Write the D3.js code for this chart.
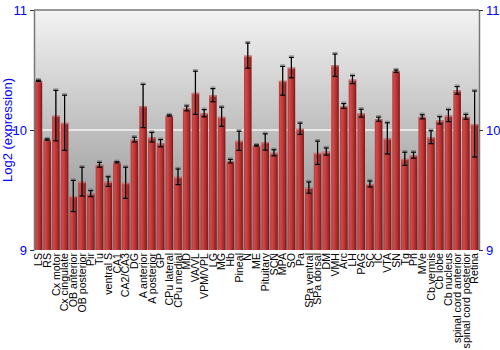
<!DOCTYPE html>
<html>
<head>
<meta charset="utf-8">
<script src="https://cdn.jsdelivr.net/npm/d3@7"></script>
<style>
body { margin: 0; background: #fff; }
svg { display: block; font-family: "Liberation Sans", Arial, sans-serif; }
.cat-label { font-size: 10.6px; fill: #000; }
.y-tick { font-size: 13px; fill: #0000ff; }
</style>
</head>
<body>
<div id="chart"></div>
<script>
var regions = ["LS","RS","Cx motor","Cx cingulate","OB anterior","OB posterior","Pir","Tu","ventral S","CA1","CA2/CA3","DG","A anterior","A posterior","GP","CPu lateral","CPu medial","MD","VA/VL","VPM/VPL","LG","MG","Hb","Pineal","N","ME","Pituitary","SCN","MPA","SO","Pa","SPa ventral","SPa dorsal","DM","VMH","Arc","LH","PAG","SC","IC","VTA","SN","Tg","Pn","MVe","Cb vermis","Cb lobe","Cb nucleus","spinal cord anterior","spinal cord posterior","Retina"]
var expr = [10.41,9.92,10.12,10.06,9.45,9.57,9.47,9.71,9.57,9.73,9.56,9.92,10.20,9.94,9.89,10.12,9.61,10.18,10.31,10.14,10.29,10.11,9.74,9.91,10.62,9.87,9.90,9.81,10.41,10.52,10.01,9.52,9.81,9.82,10.54,10.20,10.42,10.14,9.55,10.09,9.93,10.49,9.76,9.79,10.11,9.94,10.08,10.12,10.33,10.11,10.05]
var err = [0.005,0.005,0.21,0.23,0.13,0.12,0.025,0.02,0.04,0.005,0.13,0.02,0.18,0.04,0.03,0.005,0.065,0.02,0.18,0.03,0.055,0.08,0.015,0.08,0.105,0.005,0.068,0.025,0.12,0.085,0.047,0.047,0.097,0.03,0.093,0.02,0.033,0.033,0.025,0.017,0.13,0.01,0.055,0.025,0.017,0.054,0.03,0.05,0.032,0.02,0.275]
var yTicks = [9,10,11]

var width = 500, height = 350
var margin = {left: 34, right: 21, top: 10, bottom: 100}
var plotW = width - margin.left - margin.right
var plotH = height - margin.top - margin.bottom

var svg = d3.select("#chart").append("svg")
  .attr("width", width)
  .attr("height", height)

var defs = svg.append("defs")
var bgGrad = defs.append("linearGradient")
  .attr("id","bgGrad").attr("x1",0).attr("x2",0).attr("y1",0).attr("y2",1)
bgGrad.append("stop").attr("offset","0%").attr("stop-color","#f3f3f3")
bgGrad.append("stop").attr("offset","100%").attr("stop-color","#8a8a8a")
var barGrad = defs.append("linearGradient")
  .attr("id","barGrad").attr("x1",0).attr("x2",1).attr("y1",0).attr("y2",0)
barGrad.append("stop").attr("offset","0%").attr("stop-color","#b83a3a")
barGrad.append("stop").attr("offset","25%").attr("stop-color","#cc4a4a")
barGrad.append("stop").attr("offset","70%").attr("stop-color","#b02c2c")
barGrad.append("stop").attr("offset","100%").attr("stop-color","#7c1616")

var g = svg.append("g").attr("transform","translate(" + margin.left + "," + margin.top + ")")

var x = d3.scaleBand().domain(regions).range([0, plotW]).paddingInner(0.13).paddingOuter(0.07)
var y = d3.scaleLinear().domain([9, 11]).range([plotH, 0])

/* background */
g.append("rect")
  .attr("width", plotW)
  .attr("height", plotH)
  .attr("fill","url(#bgGrad)")

/* reference line at 10 */
g.append("line")
  .attr("x1",0).attr("x2",plotW)
  .attr("y1",y(10)).attr("y2",y(10))
  .attr("stroke","#f4f4f4")
  .attr("stroke-width",1.5)

/* bars */
g.selectAll("rect.bar")
  .data(regions)
  .enter().append("rect")
  .attr("class","bar")
  .attr("x", function(d) { return x(d) })
  .attr("y", function(d,i) { return y(expr[i]) })
  .attr("width", x.bandwidth())
  .attr("height", function(d,i) { return plotH - y(expr[i]) })
  .attr("fill","url(#barGrad)")
g.selectAll("rect.barcap")
  .data(regions)
  .enter().append("rect")
  .attr("class","barcap")
  .attr("x", function(d) { return x(d) })
  .attr("y", function(d,i) { return y(expr[i]) })
  .attr("width", x.bandwidth())
  .attr("height", 1.5)
  .attr("fill","#d88a8a")
  .attr("opacity",0.7)

/* error bars: gray shadow then black */
function drawErr(cls, dx, dy, color, op) {
  var eg = g.selectAll("g." + cls)
    .data(regions)
    .enter().append("g")
    .attr("class", cls)
    .attr("opacity", op)
  eg.append("line")
    .attr("x1", function(d) { return x(d) + x.bandwidth() / 2 + dx })
    .attr("x2", function(d) { return x(d) + x.bandwidth() / 2 + dx })
    .attr("y1", function(d,i) { return y(expr[i] + err[i]) + dy })
    .attr("y2", function(d,i) { return y(expr[i] - err[i]) + dy })
    .attr("stroke", color).attr("stroke-width", 1.2)
  ;[1, -1].forEach(function(s) {
    eg.append("line")
      .attr("x1", function(d) { return x(d) + x.bandwidth() / 2 + dx - 2.5 })
      .attr("x2", function(d) { return x(d) + x.bandwidth() / 2 + dx + 2.5 })
      .attr("y1", function(d,i) { return y(expr[i] + s * err[i]) + dy })
      .attr("y2", function(d,i) { return y(expr[i] + s * err[i]) + dy })
      .attr("stroke", color).attr("stroke-width", 1.2)
  })
}
drawErr("errShadow", 0, -1.5, "#666", 0.6)
drawErr("errBar", 0, 0, "#000", 1)

/* frame */
g.append("line").attr("x1",0).attr("x2",plotW).attr("y1",0).attr("y2",0)
  .attr("stroke","#777").attr("stroke-width",1.5)

var leftAxis = g.append("g")
  .call(d3.axisLeft(y).tickValues(yTicks).tickFormat(d3.format("d")).tickSize(4).tickSizeOuter(0))
var rightAxis = g.append("g")
  .attr("transform","translate(" + plotW + ",0)")
  .call(d3.axisRight(y).tickValues(yTicks).tickFormat(d3.format("d")).tickSize(4).tickSizeOuter(0))
;[leftAxis, rightAxis].forEach(function(a) {
  a.select(".domain").attr("stroke","#777").attr("stroke-width",1.5)
  a.selectAll(".tick line").attr("stroke","#333")
  a.selectAll(".tick text").attr("class","y-tick").attr("font-size",null).attr("fill",null)
  a.attr("font-family",null)
})

/* category labels */
g.selectAll("text.cat-label")
  .data(regions)
  .enter().append("text")
  .attr("class","cat-label")
  .attr("text-anchor","end")
  .attr("transform", function(d) {
    return "translate(" + (x(d) + x.bandwidth() / 2) + "," + (plotH + 3) + ") rotate(-90)"
  })
  .attr("dy","0.35em")
  .text(function(d) { return d })

/* y title */
svg.append("text")
  .attr("transform","translate(12," + (margin.top + plotH / 2) + ") rotate(-90)")
  .attr("text-anchor","middle")
  .attr("font-size",13)
  .attr("fill","#0000ff")
  .text("Log2 (expression)")
</script>
</body>
</html>
